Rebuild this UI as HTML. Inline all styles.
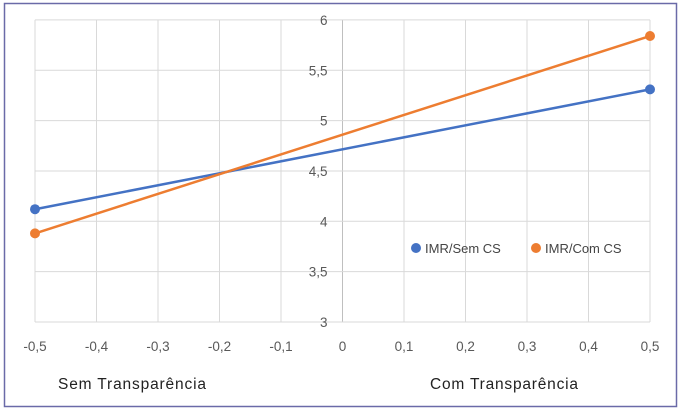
<!DOCTYPE html>
<html><head><meta charset="utf-8"><style>
body{margin:0;background:#fff;}
svg{display:block;font-family:"Liberation Sans",sans-serif;}
</style></head><body>
<svg id="chart" width="682" height="412">
<rect x="4.5" y="3.5" width="672" height="403" fill="#fff" stroke="#6a6aa8" stroke-width="1.5"/>
<g id="grid"></g><g id="series"></g><g id="labels"></g>
<text x="58" y="389" font-size="15.5" fill="#222" textLength="148">Sem Transparência</text>
<text x="430" y="389" font-size="15.5" fill="#222" textLength="148">Com Transparência</text>
<g>
<circle cx="416" cy="248" r="5" fill="#4472c4"/>
<text x="425" y="253" font-size="13" fill="#444">IMR/Sem CS</text>
<circle cx="536" cy="248" r="5" fill="#ed7d31"/>
<text x="545" y="253" font-size="13" fill="#444">IMR/Com CS</text>
</g>
</svg>
<script>
const xTicks=[-0.5,-0.4,-0.3,-0.2,-0.1,0,0.1,0.2,0.3,0.4,0.5];
const yTicks=[3,3.5,4,4.5,5,5.5,6];
const xValues=[-0.5,0.5];
const semCS=[4.12,5.31];
const comCS=[3.88,5.84];
const NS="http://www.w3.org/2000/svg";
const X=v=>35+(v+0.5)*615;
const Y=v=>322-(v-3)*100.7;
function mk(t,a,p){const e=document.createElementNS(NS,t);for(const k in a)e.setAttribute(k,a[k]);p.appendChild(e);return e;}
const g=document.getElementById('grid'),s=document.getElementById('series'),l=document.getElementById('labels');
const fmt=v=>String(+v.toFixed(1)).replace('.',',');
xTicks.forEach(v=>{
 const ln=mk('line',{x1:X(v),x2:X(v),y1:Y(6),y2:Y(3),stroke:v===0?'#bfbfbf':'#d9d9d9','stroke-width':1},g);
 
 
 const t=mk('text',{x:X(v),y:351,'font-size':13.5,fill:'#595959','text-anchor':'middle'},l);t.textContent=fmt(v);
 
 
});
yTicks.forEach(v=>{
 const ln=mk('line',{x1:X(-0.5),x2:X(0.5),y1:Y(v),y2:Y(v),stroke:'#d9d9d9','stroke-width':1},g);
 
 
 const t=mk('text',{x:X(0)-15,y:Y(v)+5,'font-size':13.5,fill:'#595959','text-anchor':'end'},l);t.textContent=fmt(v);
 
 
});
[[semCS,'#4472c4','sem-cs'],[comCS,'#ed7d31','com-cs']].forEach(([d,c,n])=>{
 const p=mk('polyline',{points:xValues.map((x,i)=>X(x)+','+Y(d[i])).join(' '),fill:'none',stroke:c,'stroke-width':2.5},s);
 
 
 xValues.forEach((x,i)=>{const m=mk('circle',{cx:X(x),cy:Y(d[i]),r:5,fill:c},s);
 
 });
});
</script>
</body></html>
